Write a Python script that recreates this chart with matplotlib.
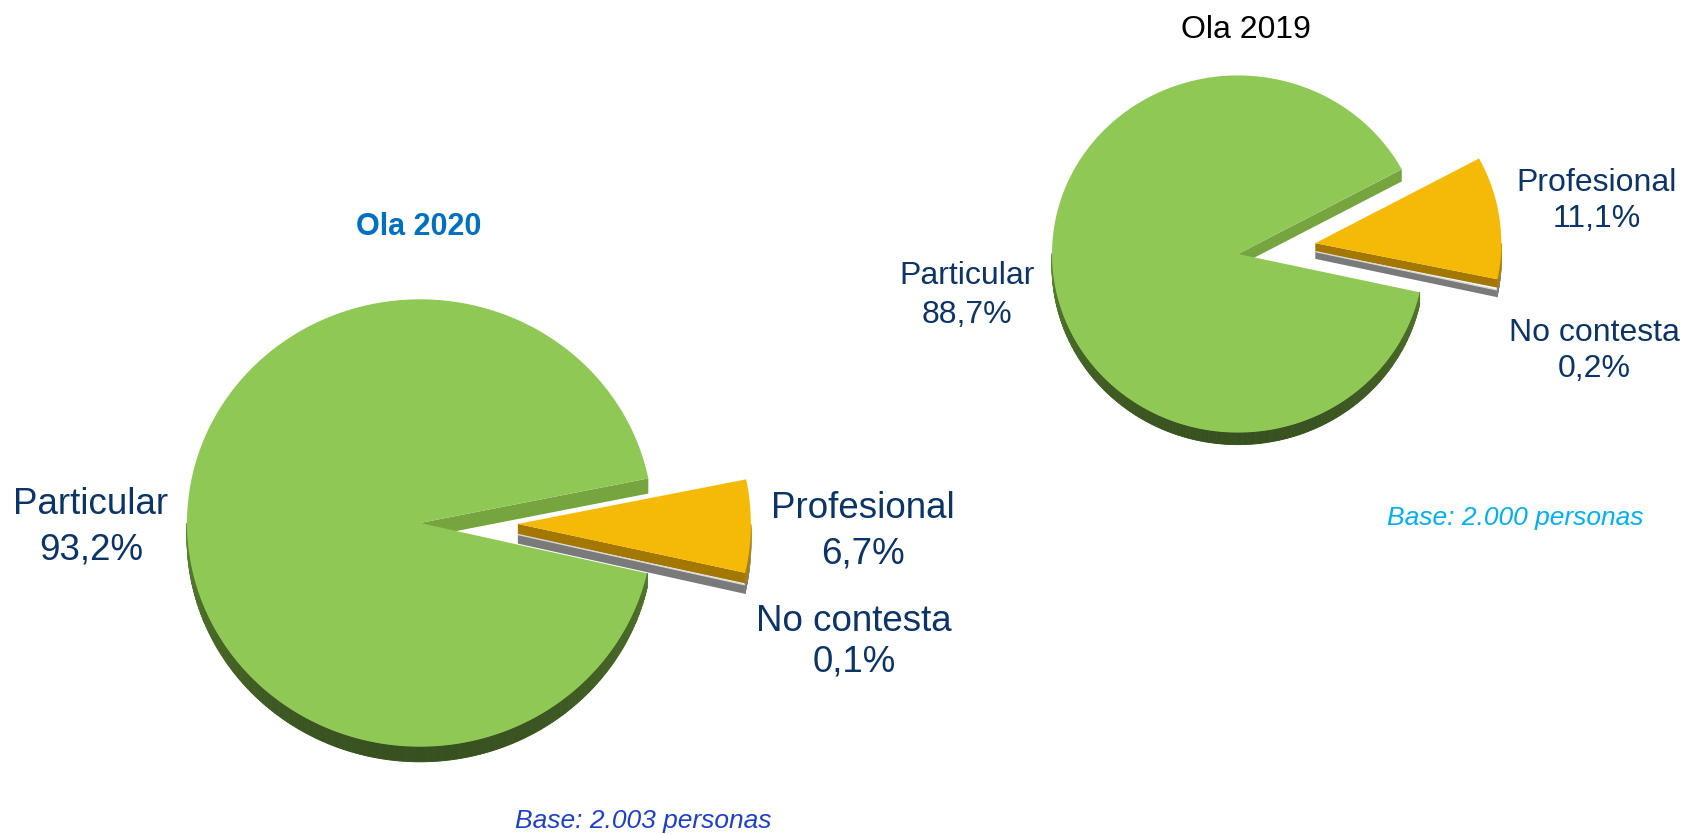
import numpy as np
import matplotlib.pyplot as plt
from matplotlib.patches import Polygon
from matplotlib.colors import to_rgb

plt.rcParams['font.family'] = ['Liberation Sans', 'DejaVu Sans']

# slice order counter-clockwise from the start angle
labels = ['Particular', 'No contesta', 'Profesional']
vals_2020 = [93.2, 0.1, 6.7]
vals_2019 = [88.7, 0.2, 11.1]

top_cols = ['#8fc855', '#8c8c8c', '#f5b907']
wall_cols = ['#76a540', '#7a7a7a', '#a47800']
rim_light = ['#6a9a38', '#9a9a9a', '#c59400']
rim_dark = ['#37501f', '#5a5a5a', '#8a6400']

navy = '#0d3466'


def fmt(v):
    return ('%.1f' % v).replace('.', ',') + '%'


def mix(c1, c2, t):
    a, b = np.array(to_rgb(c1)), np.array(to_rgb(c2))
    return tuple(a + (b - a) * t)


def pie3d(ax, vals, cx, cy, r, start, k=0.96, depth=0.065, explode=0.42):
    h = depth * r
    tot = sum(vals)
    spans = [v / tot * 360 for v in vals]
    a0s = start + np.concatenate([[0], np.cumsum(spans)[:-1]])
    # no contesta + profesional are pulled out together
    mid = np.radians(a0s[2] + spans[2] / 2)
    off = [(0, 0),
           (explode * r * np.cos(mid), -k * explode * r * np.sin(mid)),
           (explode * r * np.cos(mid), -k * explode * r * np.sin(mid))]

    def P(ox, oy, ang, dz=0.0):
        ang = np.radians(ang)
        return ox + cx + r * np.cos(ang), oy + cy - k * r * np.sin(ang) + dz

    def rim(i, a0, a1, dz=0.0, hh=h):
        ox, oy = off[i]
        angs = np.arange(a0, a1, 0.5)
        angs = np.append(angs, a1)
        for u, v in zip(angs[:-1], angs[1:]):
            m = np.radians((u + v) / 2)
            if np.sin(m) >= 0:
                continue
            t = np.sqrt(-np.sin(m))
            c = mix(rim_light[i], rim_dark[i], t)
            p1, p2 = P(ox, oy, u, dz), P(ox, oy, v, dz)
            quad = [p1, p2, (p2[0], p2[1] + hh), (p1[0], p1[1] + hh)]
            ax.add_patch(Polygon(quad, closed=True, fc=c, ec=c, lw=0.6))

    def wall(i, ang, dz=0.0, hh=h, col=None):
        ox, oy = off[i]
        ap = (ox + cx, oy + cy + dz)
        p = P(ox, oy, ang, dz)
        quad = [ap, p, (p[0], p[1] + hh), (ap[0], ap[1] + hh)]
        ax.add_patch(Polygon(quad, closed=True, fc=col or wall_cols[i],
                             ec='none'))

    def top(i, a0, a1, dz=0.0):
        ox, oy = off[i]
        angs = np.linspace(a0, a1, max(int(a1 - a0) * 2, 4))
        pts = [(ox + cx, oy + cy + dz)] + [P(ox, oy, a, dz) for a in angs]
        ax.add_patch(Polygon(pts, closed=True, fc=top_cols[i], ec='none'))

    # main slice
    a0, a1 = a0s[0], a0s[0] + spans[0]
    rim(0, a0, a1)
    wall(0, a0)
    top(0, a0, a1)

    # small slice sits under the pulled-out slice
    hp = 0.7 * h
    hn = 0.6 * h
    a0n = a0s[1]
    a0p, a1p = a0s[2], a0s[2] + spans[2]
    wall(1, a0n, dz=hp, hh=hn)
    rim(1, a0n, a1p, dz=hp, hh=hn)
    ox, oy = off[1]
    ap = (ox + cx, oy + cy + hp)
    p = P(ox, oy, a0n, hp)
    ax.plot([ap[0], p[0]], [ap[1], p[1]], color='#d8d8d8', lw=1.0,
            solid_capstyle='butt')

    # pulled-out slice
    wall(2, a0p, hh=hp)
    rim(2, a0p, a1p, hh=hp)
    top(2, a0p, a1p)


def label(ax, x, y1, y2, name, val, size):
    ax.text(x, y1, name, ha='center', va='baseline', fontsize=size,
            color=navy)
    ax.text(x, y2, fmt(val), ha='center', va='baseline', fontsize=size,
            color=navy)


fig = plt.figure(figsize=(16.85, 8.34), dpi=100)
ax = fig.add_axes([0, 0, 1, 1])
ax.set_xlim(0, 1685)
ax.set_ylim(834, 0)
ax.axis('off')

# Ola 2020
pie3d(ax, vals_2020, 420, 523, 233, 11.5)
ax.text(419, 235, 'Ola 2020', ha='center', va='baseline', fontsize=22,
        fontweight='bold', color='#0070c0')
label(ax, 91, 514, 559, labels[0], vals_2020[0], 26.5)
label(ax, 863, 518, 563, labels[2], vals_2020[2], 26.5)
label(ax, 854, 631, 672, labels[1], vals_2020[1], 26.5)
ax.text(643, 828, 'Base: 2.003 personas', ha='center', va='baseline',
        fontsize=19, style='italic', color='#1e40c8')

# Ola 2019
pie3d(ax, vals_2019, 1238, 254, 186, 28.3)
ax.text(1246, 38, 'Ola 2019', ha='center', va='baseline', fontsize=23,
        color='black')
label(ax, 967, 284, 323, labels[0], vals_2019[0], 23)
label(ax, 1597, 191, 227, labels[2], vals_2019[2], 23)
label(ax, 1594, 341, 377, labels[1], vals_2019[1], 23)
ax.text(1515, 525, 'Base: 2.000 personas', ha='center', va='baseline',
        fontsize=19, style='italic', color='#00b0f0')

fig.savefig('out.png', dpi=100, facecolor='white')
